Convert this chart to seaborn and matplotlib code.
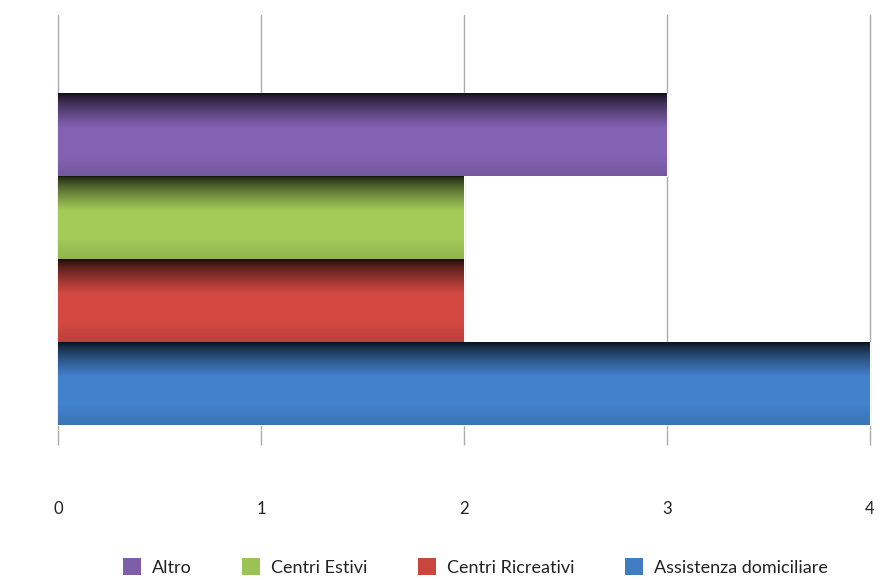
import numpy as np
import pandas as pd
import matplotlib
matplotlib.use("Agg")
import matplotlib.pyplot as plt
import seaborn as sns
from matplotlib.patches import Patch
from matplotlib.colors import to_rgb

categories = ["Altro", "Centri Estivi", "Centri Ricreativi", "Assistenza domiciliare"]
values = [3, 2, 2, 4]
colors = ["#7E5EAB", "#9BC254", "#C9463F", "#3F7CC4"]
xticks = [0, 1, 2, 3, 4]

sns.set_theme(style="white")
plt.rcParams["font.family"] = ["Lato", "DejaVu Sans"]

fig = plt.figure(figsize=(8.85, 5.8), dpi=100)
ax = fig.add_axes([20/885, 1 - 430/580, 865/885, 415/580])

df = pd.DataFrame({"cat": categories, "val": values})
sns.barplot(data=df, x="val", y="cat", hue="cat", palette=colors, width=1.0,
            dodge=False, legend=False, ax=ax, zorder=3, saturation=1)

# cylinder-like shading
grad = np.linspace(0, 1, 256)
for patch, col in zip(ax.patches, colors):
    x0, y0 = patch.get_x(), patch.get_y()
    w, h = patch.get_width(), patch.get_height()
    base = np.array(to_rgb(col))
    dark = base * 0.12
    light = np.clip(base * 1.05, 0, 1)
    t = np.clip(grad / 0.42, 0, 1) ** 0.7
    shade = 1 - 0.12 * np.clip((grad - 0.75) / 0.25, 0, 1)
    img = (dark[None, :] * (1 - t[:, None]) + light[None, :] * t[:, None]) * shade[:, None]
    img = np.repeat(img[:, None, :], 2, axis=1)
    im = ax.imshow(img, extent=[x0, x0 + w, y0 + h, y0], origin="upper",
                   aspect="auto", zorder=4, interpolation="bilinear")
    im.set_clip_path(patch)

ax.set_xlim(-38/203, (885 - 58)/203)
ax.set_ylim(3.56, -1.44)
ax.set_xticks(xticks)
ax.set_xticklabels([str(t) for t in xticks], fontsize=12, color="#222222")
ax.set_yticks([])
ax.set_xlabel("")
ax.set_ylabel("")
for s in ax.spines.values():
    s.set_visible(False)
for xv in xticks:
    ax.axvline(xv, color="#ababab", lw=1.0, zorder=1)
ax.tick_params(axis="x", direction="out", length=11, width=1.0, color="#ababab",
               pad=40, bottom=True)

handles = [Patch(facecolor=c, edgecolor="none") for c in colors]
fig.legend(handles, categories, loc="center", bbox_to_anchor=(0.537, 1 - 567/580),
           ncol=4, frameon=False, fontsize=13, handlelength=1.0, handleheight=1.0,
           columnspacing=2.8, handletextpad=0.6, labelcolor="#222222")

fig.savefig("out.png", dpi=100)
